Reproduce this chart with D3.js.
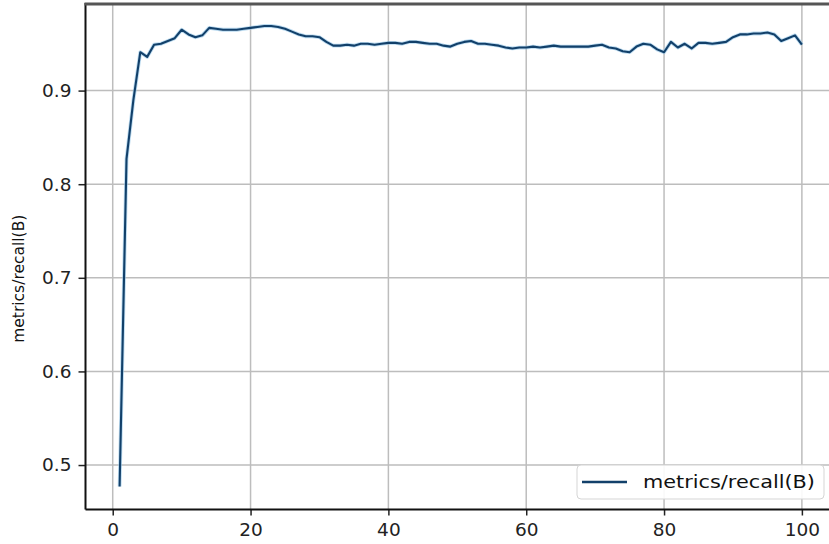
<!DOCTYPE html>
<html>
<head>
<meta charset="utf-8">
<script src="https://cdn.jsdelivr.net/npm/d3@7"></script>
<style>
  html, body { margin: 0; padding: 0; background: #fff; }
  svg { display: block; }
</style>
</head>
<body>
<svg id="chart" width="829" height="544"></svg>
<script>
const epochs = d3.range(1, 101);
const recall = [
  0.477, 0.827, 0.890, 0.941, 0.936, 0.949, 0.950, 0.953, 0.956, 0.965,
  0.960, 0.957, 0.959, 0.967, 0.966, 0.965, 0.965, 0.965, 0.966, 0.967,
  0.968, 0.969, 0.969, 0.968, 0.966, 0.963, 0.960, 0.958, 0.958, 0.957,
  0.952, 0.948, 0.948, 0.949, 0.948, 0.950, 0.950, 0.949, 0.950, 0.951,
  0.951, 0.950, 0.952, 0.952, 0.951, 0.950, 0.950, 0.948, 0.947, 0.950,
  0.952, 0.953, 0.950, 0.950, 0.949, 0.948, 0.946, 0.945, 0.946, 0.946,
  0.947, 0.946, 0.947, 0.948, 0.947, 0.947, 0.947, 0.947, 0.947, 0.948,
  0.949, 0.946, 0.945, 0.942, 0.941, 0.947, 0.950, 0.949, 0.944, 0.941,
  0.952, 0.946, 0.950, 0.945, 0.951, 0.951, 0.950, 0.951, 0.952, 0.957,
  0.960, 0.960, 0.961, 0.961, 0.962, 0.960, 0.953, 0.956, 0.959, 0.949
];
const xTicks = [0, 20, 40, 60, 80, 100];
const yTicks = [0.5, 0.6, 0.7, 0.8, 0.9];
const seriesName = "metrics/recall(B)";

(function () {
const svg = d3.select("#chart");
const pLeft = 85.5, pTop = 4, pBottom = 509.5;
const x = d3.scaleLinear().domain([-3.95, 104.95]).range([pLeft, 836]);
const y = d3.scaleLinear().domain([0.4525, 0.9925]).range([pBottom, pTop]);
const font = "'DejaVu Sans', sans-serif";

// grid
svg.append("g").selectAll("line").data(xTicks).join("line")
  .attr("x1", d => x(d)).attr("x2", d => x(d))
  .attr("y1", pTop).attr("y2", pBottom)
  .attr("stroke", "#bdbdbd").attr("stroke-width", 1.5);
svg.append("g").selectAll("line").data(yTicks).join("line")
  .attr("x1", pLeft).attr("x2", 829)
  .attr("y1", d => y(d)).attr("y2", d => y(d))
  .attr("stroke", "#bdbdbd").attr("stroke-width", 1.5);

// line
const line = d3.line().x((d, i) => x(epochs[i])).y(d => y(d));
svg.append("path").datum(recall)
  .attr("d", line).attr("fill", "none")
  .attr("stroke", "#8fc3e6").attr("stroke-width", 3.8).attr("opacity", 0.6)
  .attr("stroke-linejoin", "round");
svg.append("path").datum(recall)
  .attr("d", line).attr("fill", "none")
  .attr("stroke", "#12406a").attr("stroke-width", 2.1)
  .attr("stroke-linejoin", "round");

// axes
const xAxis = svg.append("g").attr("transform", `translate(0,${pBottom})`)
  .call(d3.axisBottom(x).tickValues(xTicks).tickFormat(d3.format("d")).tickSizeOuter(0).tickSize(6).tickPadding(7));
const yAxis = svg.append("g").attr("transform", `translate(${pLeft},0)`)
  .call(d3.axisLeft(y).tickValues(yTicks).tickFormat(d3.format(".1f")).tickSizeOuter(0).tickSize(7).tickPadding(7));
[xAxis, yAxis].forEach(g => {
  g.select(".domain").remove();
  g.selectAll("line").attr("stroke", "#222").attr("stroke-width", 1.5);
  g.selectAll("text").attr("font-family", font).attr("font-size", 18.5).attr("fill", "#222");
});

// spines
svg.append("line").attr("x1", pLeft).attr("x2", 829).attr("y1", pBottom).attr("y2", pBottom)
  .attr("stroke", "#111").attr("stroke-width", 2);
svg.append("line").attr("x1", pLeft).attr("x2", pLeft).attr("y1", 3).attr("y2", pBottom)
  .attr("stroke", "#111").attr("stroke-width", 2);
svg.append("line").attr("x1", pLeft - 1).attr("x2", 829).attr("y1", 4).attr("y2", 4)
  .attr("stroke", "#555").attr("stroke-width", 3);

// y label
svg.append("text")
  .attr("transform", `translate(24,${(pTop + pBottom) / 2 + 22}) rotate(-90)`)
  .attr("text-anchor", "middle")
  .attr("font-family", font).attr("font-size", 15.5).attr("fill", "#111")
  .text(seriesName);

// legend
const lg = svg.append("g");
lg.append("rect").attr("x", 577).attr("y", 465).attr("width", 247).attr("height", 34)
  .attr("rx", 4).attr("fill", "#fff").attr("fill-opacity", 0.9)
  .attr("stroke", "#d5d5d5").attr("stroke-width", 1);
lg.append("line").attr("x1", 582).attr("x2", 627).attr("y1", 482).attr("y2", 482)
  .attr("stroke", "#12406a").attr("stroke-width", 2.5);
lg.append("text").attr("x", 643).attr("y", 488)
  .attr("font-family", font).attr("font-size", 17.5).attr("fill", "#111")
  .attr("textLength", 172).attr("lengthAdjust", "spacingAndGlyphs")
  .text(seriesName);
})();
</script>
</body>
</html>
